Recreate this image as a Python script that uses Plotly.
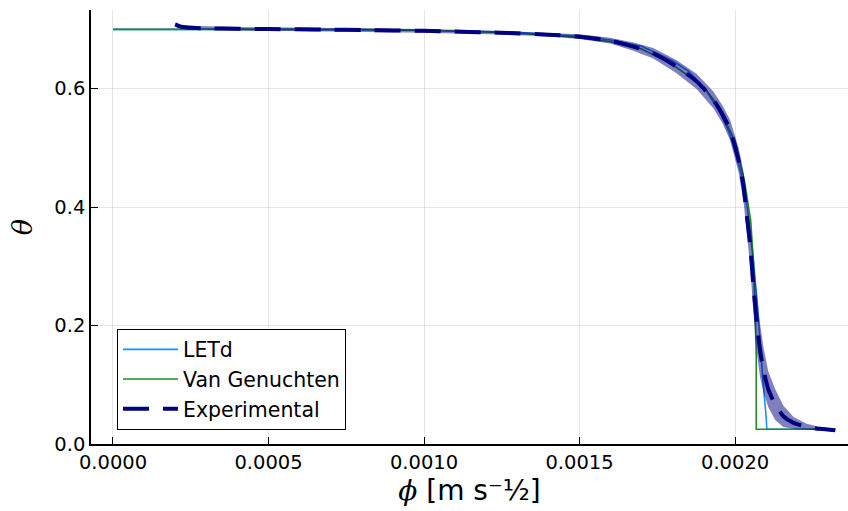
import numpy as np
import plotly.graph_objects as go

# Sorptivity-type curves: water content theta versus Boltzmann variable phi
phi_letd = [0.0, 0.0005, 0.0010, 0.0013, 0.0015, 0.0016, 0.0017, 0.0018, 0.00185,
            0.0019, 0.00195, 0.00198, 0.0020, 0.00202, 0.00204, 0.00205, 0.00206,
            0.00207, 0.00208, 0.00209, 0.00210, 0.002102, 0.002322]
theta_letd = [0.700, 0.700, 0.6985, 0.695, 0.6885, 0.682, 0.6715, 0.6465, 0.6295,
              0.602, 0.561, 0.527, 0.494, 0.455, 0.396, 0.355, 0.305,
              0.245, 0.172, 0.104, 0.045, 0.025, 0.025]

phi_vg = [0.0, 0.0008, 0.0010, 0.0012, 0.0014, 0.0015, 0.0016, 0.0017, 0.0018,
          0.0019, 0.00195, 0.0020, 0.00203, 0.00205, 0.00206, 0.002066, 0.002068,
          0.002068, 0.002322]
theta_vg = [0.700, 0.700, 0.6985, 0.6955, 0.6905, 0.686, 0.679, 0.667, 0.640,
            0.603, 0.567, 0.510, 0.445, 0.378, 0.300, 0.210, 0.150,
            0.025, 0.025]

phi_exp = [0.000200, 0.000215, 0.000240, 0.000300, 0.000400, 0.000500, 0.000600,
           0.000700, 0.000800, 0.000900, 0.001000, 0.001100, 0.001244, 0.001400,
           0.001500, 0.001598, 0.001673, 0.001737, 0.001812, 0.001877, 0.001930,
           0.001960, 0.001984, 0.002011, 0.002027, 0.002038, 0.002048, 0.002059,
           0.002070, 0.002080, 0.002091, 0.002107, 0.002129, 0.002155, 0.002188,
           0.002230, 0.002273, 0.002322]
theta_exp = [0.7085, 0.7050, 0.7030, 0.7018, 0.7010, 0.7005, 0.7000,
             0.6995, 0.6990, 0.6982, 0.6975, 0.6962, 0.6944, 0.6910,
             0.6877, 0.6810, 0.6708, 0.6597, 0.6370, 0.6118, 0.5810,
             0.5560, 0.5300, 0.4800, 0.4350, 0.3840, 0.3390, 0.2660,
             0.2040, 0.1590, 0.1256, 0.0920, 0.0666, 0.0469, 0.0357,
             0.0290, 0.0256, 0.0233]
# spread of the experimental runs (half-width of the band)
theta_exp_sd = [0.003, 0.003, 0.003, 0.003, 0.003, 0.003, 0.003,
                0.003, 0.003, 0.003, 0.003, 0.003, 0.003, 0.003,
                0.004, 0.005, 0.007, 0.009, 0.011, 0.013, 0.014,
                0.015, 0.017, 0.021, 0.025, 0.030, 0.036, 0.045,
                0.050, 0.045, 0.038, 0.030, 0.026, 0.018, 0.010,
                0.005, 0.003, 0.002]

x_ticks = [0.0, 0.0005, 0.0010, 0.0015, 0.0020]
y_ticks = [0.0, 0.2, 0.4, 0.6]

exp_lo = np.array(theta_exp) - np.array(theta_exp_sd)
exp_hi = np.array(theta_exp) + np.array(theta_exp_sd)

fig = go.Figure()
fig.add_trace(go.Scatter(x=phi_letd, y=theta_letd, mode="lines", name="LETd",
                         line=dict(color="#1E90FF", width=1.6)))
fig.add_trace(go.Scatter(x=phi_vg, y=theta_vg, mode="lines", name="Van Genuchten",
                         line=dict(color="#228B22", width=1.6)))
fig.add_trace(go.Scatter(x=phi_exp, y=exp_lo, mode="lines", showlegend=False,
                         line=dict(width=0), hoverinfo="skip"))
fig.add_trace(go.Scatter(x=phi_exp, y=exp_hi, mode="lines", showlegend=False,
                         line=dict(width=0), fill="tonexty",
                         fillcolor="rgba(0,0,128,0.5)", hoverinfo="skip"))
fig.add_trace(go.Scatter(x=phi_exp, y=theta_exp, mode="lines", name="Experimental",
                         line=dict(color="#000080", width=4, dash="26px,14px",
                                   shape="spline", smoothing=0.6)))

axis_common = dict(
    showline=True, linecolor="black", linewidth=1.5, mirror=False,
    ticks="inside", ticklen=7, tickwidth=1.2, tickcolor="black",
    showgrid=True, gridcolor="rgba(0,0,0,0.1)", gridwidth=1,
    zeroline=False, tickfont=dict(family="DejaVu Sans", size=19.5, color="black"),
)

fig.update_layout(
    width=848, height=511,
    margin=dict(l=91, r=0, t=10, b=67),
    paper_bgcolor="white", plot_bgcolor="white",
    font=dict(family="DejaVu Sans", color="black"),
    xaxis=dict(
        range=[-0.0000707, 0.002363],
        tickvals=x_ticks, ticktext=[f"{v:.4f}" for v in x_ticks],
        title=dict(text="<span style=\"font-family:'DejaVu Serif';font-style:italic\">ϕ</span> [m s⁻½]",
                   font=dict(size=28), standoff=3),
        **axis_common,
    ),
    yaxis=dict(
        range=[0.0, 0.7327],
        tickvals=y_ticks, ticktext=[f"{v:.1f}" for v in y_ticks],
        title=dict(text="<span style=\"font-family:'DejaVu Serif';font-style:italic\">θ</span>",
                   font=dict(size=27), standoff=14),
        **axis_common,
    ),
    legend=dict(
        x=0.0343, y=0.0334, xanchor="left", yanchor="bottom",
        bgcolor="white", bordercolor="black", borderwidth=1,
        font=dict(family="DejaVu Sans", size=20.5, color="black"),
        tracegroupgap=0, itemwidth=55, traceorder="normal",
    ),
    showlegend=True,
)

fig.write_html("out.html")
